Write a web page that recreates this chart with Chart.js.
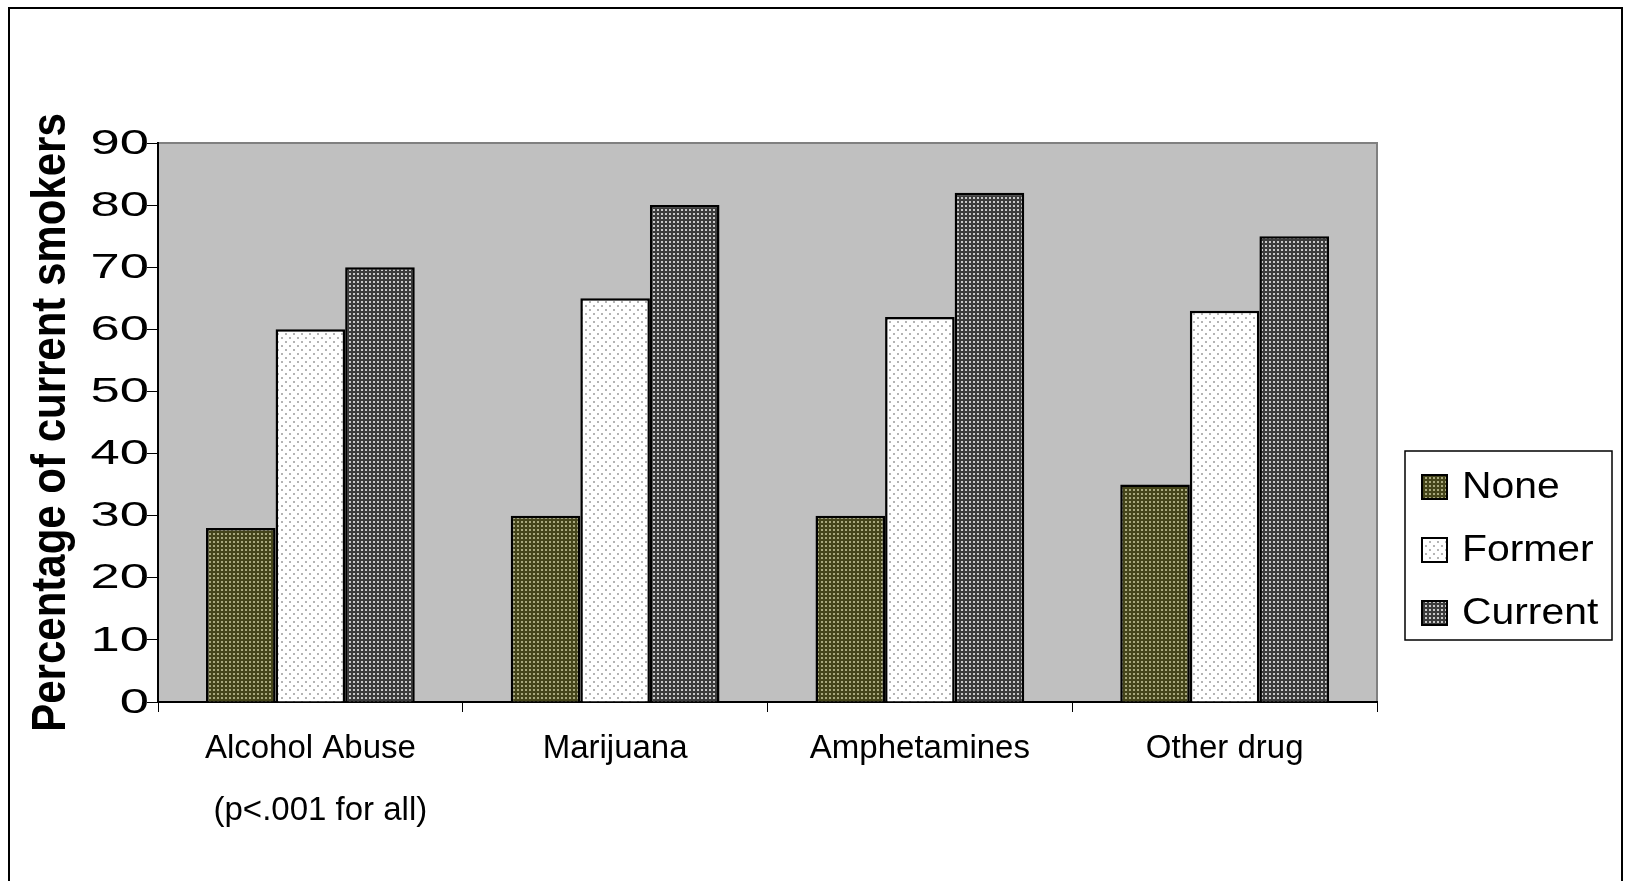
<!DOCTYPE html>
<html>
<head>
<meta charset="utf-8">
<script src="https://cdn.jsdelivr.net/npm/chart.js@4/dist/chart.umd.min.js"></script>
<style>
  html, body { margin: 0; padding: 0; background: #fff; }
  canvas { display: block; }
</style>
</head>
<body>
<canvas id="c" width="1625" height="881"></canvas>
<script>
// Substance use categories and percentage of current smokers per smoking status
const categories = ['Alcohol Abuse', 'Marijuana', 'Amphetamines', 'Other drug'];
const seriesNames = ['None', 'Former', 'Current'];
const noneValues = [28, 30, 30, 35];
const formerValues = [60, 65, 62, 63];
const currentValues = [70, 80, 82, 75];
const yTicks = [0, 10, 20, 30, 40, 50, 60, 70, 80, 90];
const yTitle = 'Percentage of current smokers';
const note = '(p<.001 for all)';

const FONT = "'Liberation Sans', Arial, sans-serif";

// Small tiled fills for the hatched bars
function makePattern(size, bg, dots, dotColor) {
  const cv = document.createElement('canvas');
  cv.width = size; cv.height = size;
  const g = cv.getContext('2d');
  g.fillStyle = bg;
  g.fillRect(0, 0, size, size);
  g.fillStyle = dotColor;
  dots.forEach(([x, y, w, h]) => g.fillRect(x, y, w, h));
  return g.createPattern(cv, 'repeat');
}
const fillNone = makePattern(4, '#45451a', [[1, 1, 2, 2]], '#a8a87c');
const fillFormer = makePattern(8, '#ffffff', [[1, 1, 2, 2], [5, 5, 2, 2]], '#b4b4b4');
const fillCurrent = makePattern(4, '#3c3c3c', [[1, 1, 2, 2]], '#c8c8c8');
const fills = [fillNone, fillFormer, fillCurrent];

// Page frame and grey plotting area
const framePlugin = {
  id: 'frame',
  beforeDraw(chart) {
    const { ctx, chartArea: a } = chart;
    ctx.save();
    ctx.fillStyle = '#ffffff';
    ctx.fillRect(0, 0, chart.width, chart.height);
    ctx.fillStyle = '#c0c0c0';
    ctx.fillRect(a.left, a.top, a.right - a.left, a.bottom - a.top);
    ctx.strokeStyle = '#808080';
    ctx.lineWidth = 2;
    ctx.beginPath();
    ctx.moveTo(a.left, a.top);
    ctx.lineTo(a.right, a.top);
    ctx.lineTo(a.right, a.bottom);
    ctx.stroke();
    // outer frame
    ctx.strokeStyle = '#000000';
    ctx.lineWidth = 2;
    ctx.beginPath();
    ctx.moveTo(9, chart.height);
    ctx.lineTo(9, 8);
    ctx.lineTo(1622, 8);
    ctx.lineTo(1622, chart.height);
    ctx.stroke();
    ctx.restore();
  }
};

// Wide-set value labels, rotated title for the y axis, and the significance note
const axisTextPlugin = {
  id: 'axisText',
  afterDraw(chart) {
    const { ctx } = chart;
    const y = chart.scales.y;
    const x = chart.scales.x;
    ctx.save();
    ctx.fillStyle = '#000000';
    ctx.font = '35px ' + FONT;
    ctx.textAlign = 'right';
    ctx.textBaseline = 'middle';
    y.ticks.forEach(t => {
      const py = y.getPixelForValue(t.value);
      ctx.save();
      ctx.translate(149, py + 1);
      ctx.scale(1.5, 1);
      ctx.fillText(String(t.value), 0, 0);
      ctx.restore();
    });
    ctx.save();
    ctx.translate(52, (chart.chartArea.top + chart.chartArea.bottom) / 2);
    ctx.rotate(-Math.PI / 2);
    ctx.scale(1, 1.15);
    ctx.font = 'bold 42px ' + FONT;
    ctx.textAlign = 'center';
    ctx.textBaseline = 'middle';
    ctx.fillText(yTitle, 0, 0);
    ctx.restore();
    // note under the first category
    ctx.font = '33px ' + FONT;
    ctx.textAlign = 'center';
    ctx.textBaseline = 'middle';
    ctx.fillText(note, x.getPixelForValue(0) + 10, x.bottom - 70);
    ctx.restore();
  }
};

// Boxed legend to the right of the plot
const legendPlugin = {
  id: 'boxLegend',
  afterDraw(chart) {
    const { ctx } = chart;
    const box = { x: 1405, y: 451, w: 207, h: 189 };
    ctx.save();
    ctx.strokeStyle = '#000000';
    ctx.lineWidth = 1.5;
    ctx.strokeRect(box.x, box.y, box.w, box.h);
    ctx.font = '37.5px ' + FONT;
    ctx.textBaseline = 'middle';
    chart.data.datasets.forEach((ds, i) => {
      const cy = box.y + 36 + i * 63;
      ctx.fillStyle = ds.backgroundColor;
      ctx.fillRect(1422, cy - 12, 25, 24);
      ctx.strokeStyle = '#000';
      ctx.lineWidth = 2;
      ctx.strokeRect(1422, cy - 12, 25, 24);
      ctx.fillStyle = '#000';
      ctx.save();
      ctx.translate(1462, cy + 1);
      ctx.scale(1.09, 1);
      ctx.fillText(ds.label, 0, 0);
      ctx.restore();
    });
    ctx.restore();
  }
};

const datasets = [noneValues, formerValues, currentValues].map((vals, i) => ({
  label: seriesNames[i],
  data: vals,
  backgroundColor: fills[i],
  borderColor: '#000000',
  borderWidth: 2.5,
  borderSkipped: 'bottom',
  categoryPercentage: 0.685,
  barPercentage: 1.0
}));

new Chart(document.getElementById('c'), {
  type: 'bar',
  data: { labels: categories, datasets },
  options: {
    responsive: false,
    devicePixelRatio: 1,
    animation: false,
    layout: { padding: { left: 0, top: 143, right: 248, bottom: 0 } },
    plugins: {
      legend: { display: false },
      tooltip: { enabled: false }
    },
    scales: {
      x: {
        afterFit(s) { s.height = 179; },
        grid: { drawOnChartArea: false, drawTicks: true, tickLength: 10, color: '#000000', lineWidth: 1 },
        border: { display: true, color: '#000000', width: 2 },
        ticks: {
          color: '#000000',
          padding: 5.5,
          font: { family: FONT, size: 33, lineHeight: 1.91 }
        }
      },
      y: {
        min: 0,
        max: 90,
        afterFit(s) { s.width = 158; },
        afterBuildTicks(s) { s.ticks = yTicks.map(v => ({ value: v })); },
        grid: { drawOnChartArea: false, drawTicks: true, tickLength: 11, color: '#000000', lineWidth: 1 },
        border: { display: true, color: '#000000', width: 2 },
        ticks: { display: false }
      }
    }
  },
  plugins: [framePlugin, axisTextPlugin, legendPlugin]
});
</script>
</body>
</html>
